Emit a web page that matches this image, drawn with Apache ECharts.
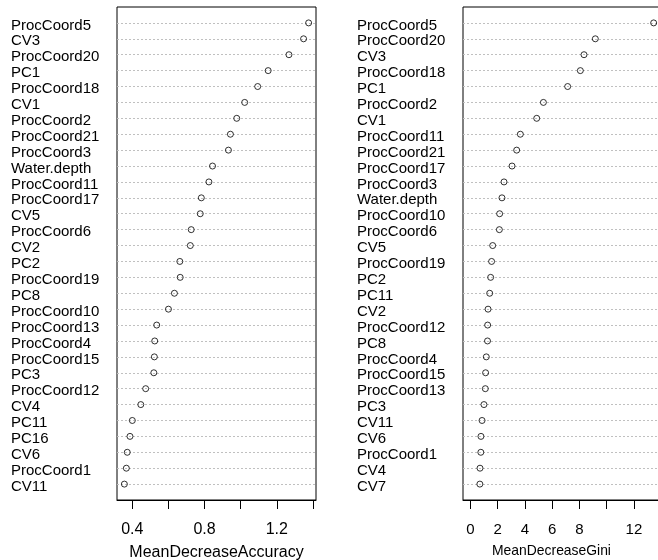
<!DOCTYPE html>
<html><head><meta charset="utf-8">
<script src="https://cdn.jsdelivr.net/npm/echarts@6/dist/echarts.min.js"></script>
<style>html,body{margin:0;padding:0;background:#fff}#c{width:658px;height:560px}</style>
</head><body><div id="c"></div>
<script>
const accNames = ["ProcCoord5","CV3","ProcCoord20","PC1","ProcCoord18","CV1","ProcCoord2","ProcCoord21","ProcCoord3","Water.depth","ProcCoord11","ProcCoord17","CV5","ProcCoord6","CV2","PC2","ProcCoord19","PC8","ProcCoord10","ProcCoord13","ProcCoord4","ProcCoord15","PC3","ProcCoord12","CV4","PC11","PC16","CV6","ProcCoord1","CV11"];
const accValues = [1.376,1.348,1.267,1.152,1.094,1.022,0.978,0.943,0.932,0.844,0.824,0.782,0.776,0.726,0.721,0.663,0.665,0.633,0.600,0.535,0.524,0.522,0.519,0.474,0.447,0.400,0.387,0.372,0.367,0.356];
const giniNames = ["ProcCoord5","ProcCoord20","CV3","ProcCoord18","PC1","ProcCoord2","CV1","ProcCoord11","ProcCoord21","ProcCoord17","ProcCoord3","Water.depth","ProcCoord10","ProcCoord6","CV5","ProcCoord19","PC2","PC11","CV2","ProcCoord12","PC8","ProcCoord4","ProcCoord15","ProcCoord13","PC3","CV11","CV6","ProcCoord1","CV4","CV7"];
const giniValues = [13.45,9.17,8.34,8.07,7.14,5.36,4.87,3.67,3.40,3.06,2.47,2.32,2.15,2.13,1.64,1.56,1.49,1.42,1.30,1.27,1.26,1.17,1.12,1.10,1.00,0.86,0.78,0.77,0.71,0.70];
const accTicks = [0.4,0.6,0.8,1.0,1.2,1.4];
const accTickLabels = [0.4,0.8,1.2];
const giniTicks = [0,2,4,6,8,10,12];
const giniTickLabels = [0,2,4,6,8,12];

const FONT = "'Liberation Sans', Arial, Helvetica, sans-serif";
function ext(lo, hi){ const r = hi - lo; return [lo - 0.04*r, hi + 0.04*r]; }
const accRange = ext(Math.min(...accValues), Math.max(...accValues));
const giniRange = ext(0, Math.max(...giniValues));

function yAxis(idx, names){
  return {
    type:'category', gridIndex: idx, data: [''].concat(names, [' ']),
    inverse: true, boundaryGap: false,
    axisLine:{show:false}, axisTick:{show:false},
    axisLabel:{interval:0, align:'left', verticalAlign:'top', lineHeight:5, margin:106, fontSize:15, color:'#000', fontFamily:FONT},
    splitLine:{show:true, interval:(i)=> i>0 && i<names.length+1, lineStyle:{color:'#c0c0c0', type:[2,2], width:1}}
  };
}
function xAxis(idx, range, ticks, labels, name, fs, nfs, namePad, margin, nameGap){
  return {
    type:'value', gridIndex: idx, min: range[0], max: range[1],
    axisLine:{show:true, lineStyle:{color:'#000', width:1}},
    axisTick:{show:true, customValues: ticks, length:9, inside:false, lineStyle:{color:'#000', width:1}},
    axisLabel:{customValues: labels, margin:margin, fontSize:fs, color:'#000', fontFamily:FONT},
    splitLine:{show:false},
    name: name, nameLocation:'middle', nameGap:nameGap, nameMoveOverlap:false,
    nameTextStyle:{fontSize:nfs, color:'#000', fontFamily:FONT, padding:namePad}
  };
}
function series(idx, names, values){
  return {
    type:'scatter', xAxisIndex: idx, yAxisIndex: idx,
    data: values.map((v,i)=>[v, names[i]]),
    symbol:'circle', symbolSize:6, silent:true,
    itemStyle:{color:'rgba(0,0,0,0)', borderColor:'#000', borderWidth:1},
    emphasis:{disabled:true}
  };
}
const chart = echarts.init(document.getElementById('c'), null, {renderer:'canvas'});
chart.setOption({
  animation:false,
  backgroundColor:'#fff',
  grid:[
    {left:117, top:7, width:199, height:493, outerBoundsMode:'none', containLabel:false, show:true, borderColor:'#000', borderWidth:1, backgroundColor:'rgba(0,0,0,0)'},
    {left:463, top:7, width:198, height:493, outerBoundsMode:'none', containLabel:false, show:true, borderColor:'#000', borderWidth:1, backgroundColor:'rgba(0,0,0,0)'}
  ],
  xAxis:[
    xAxis(0, accRange, accTicks, accTickLabels, 'MeanDecreaseAccuracy', 16, 16, [0,0,0,0], 22, 45),
    xAxis(1, giniRange, giniTicks, giniTickLabels, 'MeanDecreaseGini', 15, 13.9, [0,21,0,0], 22, 44)
  ],
  yAxis:[yAxis(0, accNames), yAxis(1, giniNames)],
  series:[series(0, accNames, accValues), series(1, giniNames, giniValues)]
});
</script></body></html>
